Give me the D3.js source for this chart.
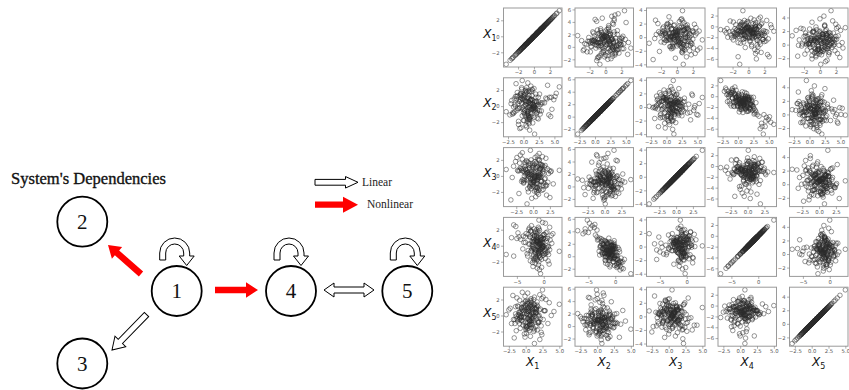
<!DOCTYPE html>
<html>
<head>
<meta charset="utf-8">
<script src="https://cdn.jsdelivr.net/npm/d3@7"></script>
<style>
  body { margin: 0; background: #fff; }
  svg { display: block; }
</style>
</head>
<body>
<svg id="fig" width="849" height="390"></svg>
<script>
// ---- Sampled observations of the five system variables ----
const x1 = [
  0.3,-1.2,0.8,1.5,-0.4,0.1,-2.1,0.9,-0.7,1.1,0.0,-1.6,2.3,-0.2,0.6,-0.9,1.8,-0.5,0.4,-1.3,
  1.0,-0.1,-2.6,0.7,1.3,-0.8,0.2,2.0,-1.0,0.5,-0.3,1.6,-1.8,0.9,-0.6,3.2,-0.2,1.2,-1.4,0.1,
  -0.9,0.6,1.9,-0.4,-1.1,0.3,2.6,-1.7,0.8,-0.5,1.4,0.0,-2.3,0.7,1.0,-0.7,0.4,-1.5,2.1,-0.1,
  0.5,-3.5,1.1,-0.3,0.8,-1.9,0.2,1.7,-0.6,1.3,-1.2,0.1,0.9,-0.8,2.4,-0.4,0.6,-1.0,1.5,-2.0,
  -0.2,1.2,-0.9,0.4,2.8,-1.4,0.7,-0.5,1.0,-2.8,0.3,1.8,-0.7,0.0,-1.6,1.4,0.5,-0.3,2.2,-1.1,
  0.8,-0.6,1.6,-1.3,0.2,0.9,-2.2,1.1,-0.1,0.6,-0.8,2.0,-1.5,0.4,1.3,-0.4,-1.0,0.7,-0.2,1.9,
  -1.7,0.1,1.2,-0.6,0.5,-3.0,0.9,-0.3,1.7,-1.1,0.3,2.5,-0.9,0.6,-0.1,1.0,-1.8,0.2,1.4,-0.5,
  0.4,-1.4,2.9,-0.7,0.0,1.1,-2.4,0.8,-0.2,1.5,-1.2,0.3,0.7,-0.9,1.8,-0.4,0.5,-1.6,1.2,-0.1,
  2.1,-0.8,0.6,-1.9,1.0,-0.3,0.2,1.6,-1.0,-0.6,0.9,-2.7,1.3,0.1,-0.5,2.3,-1.3,0.4,-0.2,1.1
];
const x2 = [
  1.2,0.4,-0.5,2.0,4.6,0.9,1.5,-1.1,0.7,2.4,0.1,1.0,-0.3,1.8,0.6,-1.6,1.3,0.2,2.9,0.8,
  -0.4,1.6,0.5,1.1,-0.9,2.2,0.3,1.4,-1.8,0.9,1.9,5.3,0.0,1.2,2.6,-0.2,0.7,-1.3,1.7,0.4,
  2.1,-0.6,0.8,1.3,-2.2,0.5,3.9,1.0,-0.1,1.7,0.2,2.5,-0.8,1.1,0.6,-1.4,3.1,0.9,-0.3,1.5,
  0.3,1.8,4.2,-0.7,1.2,0.6,2.3,-1.0,0.8,1.4,-0.2,2.0,0.1,-1.7,5.8,1.1,0.4,2.7,-0.5,0.9,
  1.6,-0.1,0.7,2.1,-1.2,1.0,0.3,1.9,3.6,-0.6,1.4,0.5,-2.8,1.2,2.4,0.0,0.8,-0.9,1.7,0.2,
  4.9,0.6,-0.4,1.3,2.8,-1.5,0.9,0.1,1.8,-0.7,1.1,0.4,2.2,3.4,-0.3,1.5,0.7,-1.9,1.0,0.3,
  0.8,1.7,-1.1,0.2,2.5,1.0,-0.2,1.4,0.5,4.1,-0.9,1.2,0.6,2.0,-1.6,0.9,0.1,1.6,-0.5,2.3,
  -0.3,1.1,0.7,1.9,-1.3,4.5,0.4,1.3,-0.6,2.6,0.8,-2.0,1.5,0.2,1.0,-0.1,1.8,0.6,5.1,0.9,
  1.4,0.0,2.1,-0.8,0.7,1.6,-1.4,0.3,1.2,2.9,3.8,-0.4,0.9,1.7,-1.0,0.5,4.4,1.1,-0.2,2.0
];
const x3 = [
  -0.5,0.9,1.4,-1.2,0.2,-0.8,0.6,2.1,-1.7,0.0,1.0,-0.3,-2.4,0.7,-0.9,1.6,0.3,-1.4,0.8,-0.1,
  1.2,-0.6,0.4,-2.0,1.8,0.1,-1.1,0.9,-0.2,2.6,-0.7,0.5,1.3,-1.5,0.0,-0.4,1.1,-2.9,0.6,0.2,
  -0.3,1.5,-1.0,0.7,-0.1,2.3,-1.9,0.4,1.0,-0.8,0.2,-1.3,0.8,3.9,-0.5,1.2,-0.2,0.6,-1.6,0.9,
  0.1,-0.9,1.7,-0.4,-4.0,0.5,1.1,-1.2,0.3,-0.6,2.0,0.8,-1.8,0.0,1.4,-0.3,-2.2,0.7,1.0,-0.7,
  0.6,1.3,-1.4,0.2,0.9,-0.5,2.4,-1.0,0.4,-0.2,1.6,-2.6,0.1,0.7,-0.8,1.1,-1.3,0.3,1.9,-0.4,
  -1.1,0.5,0.0,1.8,-0.6,1.0,-2.1,0.3,0.8,-1.5,2.2,-0.3,0.6,-0.9,1.4,-0.1,3.0,-1.7,0.2,0.9,
  1.5,-0.2,0.7,-1.3,0.4,-3.3,1.1,0.0,-0.7,1.9,-1.0,0.6,-0.4,2.7,0.2,-1.9,0.8,-0.6,1.3,0.1,
  -0.8,0.3,-1.6,1.2,0.5,-0.1,2.0,-1.1,0.9,-0.4,1.5,0.0,-2.3,0.6,-0.9,1.7,-0.2,1.0,-1.2,0.4,
  0.7,-1.4,1.0,0.2,-0.6,1.8,-0.3,-2.0,0.5,1.3,-0.8,2.5,-0.1,0.9,-1.6,0.3,-0.5,1.4,-3.1,0.6
];
const x4 = [
  -0.8,-1.9,0.2,-1.3,-3.9,-0.4,-2.1,0.7,-1.0,-2.6,-0.2,-1.5,1.1,-0.9,-1.7,0.4,-2.4,-0.6,-1.2,-3.0,
  -1.1,0.0,-2.0,-0.5,1.4,-1.6,-0.7,-2.8,0.3,-1.3,-0.3,-4.8,-1.8,-0.1,-2.3,-0.9,0.8,-1.4,-0.6,-2.0,
  -1.5,0.5,-0.8,-2.2,0.9,-1.0,-5.6,-0.4,-1.9,-0.7,-2.9,-0.2,1.0,-1.2,-0.5,0.2,-3.4,-1.6,-0.9,-0.1,
  -1.3,-0.6,-3.4,-1.8,-0.3,-2.5,-1.1,0.6,-0.8,-1.7,-0.1,-2.2,0.4,-1.0,-5.2,-0.5,-1.4,-3.1,1.7,-0.9,
  -0.4,-1.7,-1.0,-0.2,0.3,-2.0,-0.7,-1.5,-6.0,-1.2,-0.6,-2.4,2.9,-0.9,-1.8,0.1,-1.1,-0.3,-2.7,-0.8,
  -4.3,-1.4,0.4,-0.9,-2.6,-0.1,-1.6,-0.5,-2.1,-1.0,0.7,-1.3,-0.7,-3.7,-0.2,-1.9,-1.1,1.2,-0.6,-2.4,
  -1.2,-0.3,-1.8,0.2,-2.0,-0.8,-1.4,0.5,-1.1,-7.0,-0.4,-2.3,-0.9,-1.6,0.9,-0.6,-1.3,-2.8,0.0,-1.7,
  -0.7,-1.5,-0.2,-2.4,0.6,-4.6,-1.0,-0.5,-1.9,-3.3,-0.8,1.5,-1.2,-0.1,-1.6,-0.9,-2.2,0.3,-3.8,-1.1,
  -1.8,-0.6,-1.2,0.8,-2.1,-0.3,-0.9,-1.5,0.1,-2.9,-5.0,-0.4,-1.3,-0.7,1.1,-1.0,-5.6,-1.9,-0.2,-2.5
];
const x5 = [
  0.9,-0.4,1.6,0.2,-1.3,1.1,2.3,-0.2,0.6,1.8,-1.0,0.4,1.3,-0.7,2.8,0.0,0.8,-1.8,1.5,0.3,
  -0.6,1.4,0.7,2.0,-0.1,0.5,-1.5,1.2,3.3,0.1,-0.8,0.9,1.7,-2.3,0.6,2.5,-0.3,1.0,0.2,-1.1,
  1.9,0.3,-0.9,1.1,0.6,-0.5,2.1,0.0,1.4,-1.6,0.8,3.8,-0.2,0.5,1.6,-1.2,0.9,0.1,2.4,-0.7,
  0.4,1.3,-0.3,0.8,2.2,-1.4,0.2,1.7,-0.6,0.7,1.0,-2.9,0.5,1.9,-0.1,0.9,2.7,-0.9,0.3,1.2,
  -0.2,0.6,1.8,-1.0,0.3,1.5,-0.5,2.6,0.8,-1.7,1.1,0.0,0.7,2.0,-0.8,1.3,4.2,0.4,-1.3,0.9,
  1.0,-0.7,0.5,2.3,-0.2,1.4,0.1,-1.5,1.9,0.6,-0.4,3.0,0.8,-0.9,1.2,0.3,-2.1,1.6,0.0,0.7,
  0.2,1.7,-1.2,0.9,0.4,2.1,-0.6,1.1,-0.1,0.7,1.5,-1.9,0.3,2.9,0.6,-0.3,1.3,-0.8,5.0,0.5,
  1.4,0.1,-0.5,1.8,0.7,-1.1,2.4,0.2,1.0,-0.4,0.6,1.6,-2.5,0.9,0.3,2.2,-0.7,1.2,0.0,-1.4,
  0.8,2.0,-0.3,0.5,1.3,-0.9,0.2,3.5,-1.6,1.1,0.4,-0.1,1.7,0.6,-1.0,2.6,0.0,1.2,-0.6,0.9
];
const series = [x1, x2, x3, x4, x5];
const varNames = ["1", "2", "3", "4", "5"];

// tick values used when a variable sits on the horizontal / vertical axis
const xTickVals = [[-2, 0, 2], [-2.5, 0, 2.5, 5], [-2.5, 0, 2.5], [-5, 0], [-2.5, 0, 2.5, 5]];
const xTickFmt  = ["d", ".1f", ".1f", "d", ".1f"];
const yTickVals = [[-2, 0, 2], [-2, 0, 2, 4, 6], [-4, -2, 0, 2, 4], [-6, -4, -2, 0, 2], [-2, 0, 2, 4]];

// ---- Dependency diagram content ----
const nodeLabels = ["1", "2", "3", "4", "5"];
const nonlinearEdges = [["1", "2"], ["1", "4"]];
const linearEdges = [["1", "3"], ["4", "5"]];
const bidirectional = [["4", "5"]];
const selfLoops = ["1", "4", "5"];
const legendItems = ["Linear", "Nonlinear"];

const svg = d3.select("#fig");

// ================= Diagram =================
const nodePos = {
  "1": [176.7, 291], "2": [82.3, 221.7], "3": [82.3, 363.5],
  "4": [291, 291], "5": [407.3, 291]
};
// arrow endpoints (tail, tip) for each edge in the drawing
const edgeGeom = {
  "1-2": [[141, 274], [108, 245]],
  "1-4": [[215, 290], [258, 290]],
  "1-3": [[146.5, 314.5], [112, 350]],
  "4-5": [[324, 290], [374, 290]]
};
const serif = "'Liberation Serif', 'Times New Roman', serif";

function blockArrow(g, p0, p1, opt) {
  const dx = p1[0] - p0[0], dy = p1[1] - p0[1];
  const len = Math.hypot(dx, dy);
  const ang = Math.atan2(dy, dx) * 180 / Math.PI;
  const s = opt.shaft / 2, h = opt.head / 2, L = opt.headLen;
  let pts;
  if (opt.double) {
    pts = [[0, 0], [L, -h], [L, -s], [len - L, -s], [len - L, -h], [len, 0],
           [len - L, h], [len - L, s], [L, s], [L, h]];
  } else {
    pts = [[0, -s], [len - L, -s], [len - L, -h], [len, 0], [len - L, h], [len - L, s], [0, s]];
  }
  g.append("polygon")
    .attr("transform", `translate(${p0[0]},${p0[1]}) rotate(${ang})`)
    .attr("points", pts.map(p => p.join(",")).join(" "))
    .attr("fill", opt.fill)
    .attr("stroke", opt.stroke || "none")
    .attr("stroke-width", opt.strokeWidth || 0)
    .attr("stroke-linejoin", "miter");
}

const diag = svg.append("g");

diag.append("text")
  .attr("x", 11).attr("y", 184)
  .attr("font-family", serif).attr("font-size", 17)
  .attr("textLength", 155).attr("lengthAdjust", "spacingAndGlyphs")
  .attr("fill", "#111").attr("stroke", "#111").attr("stroke-width", 0.35)
  .text("System's Dependencies");

// nodes
nodeLabels.forEach(k => {
  const [cx, cy] = nodePos[k];
  diag.append("circle").attr("cx", cx).attr("cy", cy).attr("r", 25)
    .attr("fill", "#fff").attr("stroke", "#000").attr("stroke-width", 1.8);
  diag.append("text").attr("x", cx).attr("y", cy + 7)
    .attr("text-anchor", "middle").attr("font-family", serif).attr("font-size", 21)
    .attr("fill", "#111").text(k);
});

// nonlinear (red) arrows
nonlinearEdges.forEach(([a, b]) => {
  const [p0, p1] = edgeGeom[a + "-" + b];
  blockArrow(diag, p0, p1, { shaft: 6.5, head: 15.5, headLen: 12, fill: "#f00" });
});
// linear (hollow) arrows
linearEdges.forEach(([a, b]) => {
  const [p0, p1] = edgeGeom[a + "-" + b];
  const dbl = bidirectional.some(e => e[0] === a && e[1] === b);
  blockArrow(diag, p0, p1, {
    shaft: 6, head: dbl ? 14 : 15, headLen: dbl ? 10 : 12, double: dbl,
    fill: "#fff", stroke: "#000", strokeWidth: 1
  });
});

// self-loop hollow curved arrows
selfLoops.forEach(k => {
  const cx = nodePos[k][0] - 2, cy = nodePos[k][1] - 38;
  const Ro = 15, Ri = 9;
  const p = d3.path();
  p.moveTo(cx - Ro, cy + 7);
  p.lineTo(cx - Ro, cy);
  p.arc(cx, cy, Ro, Math.PI, 2 * Math.PI, false);
  p.lineTo(cx + Ro, cy + 3);
  p.lineTo(cx + Ro + 4.5, cy + 3);
  p.lineTo(cx + 12, cy + 12.5);
  p.lineTo(cx + Ri - 4.5, cy + 3);
  p.lineTo(cx + Ri, cy + 3);
  p.lineTo(cx + Ri, cy);
  p.arc(cx, cy, Ri, 2 * Math.PI, Math.PI, true);
  p.lineTo(cx - Ri, cy + 7);
  p.closePath();
  diag.append("path").attr("d", p.toString())
    .attr("fill", "#fff").attr("stroke", "#000").attr("stroke-width", 1);
});

// legend
const legendY = [182.3, 204.7];
legendItems.forEach((name, i) => {
  const y = legendY[i];
  if (i === 0) {
    blockArrow(diag, [315, y], [358, y], { shaft: 5.8, head: 11.5, headLen: 12.5,
      fill: "#fff", stroke: "#000", strokeWidth: 1 });
  } else {
    blockArrow(diag, [315, y], [358, y], { shaft: 6.2, head: 16, headLen: 15, fill: "#f00" });
  }
  diag.append("text").attr("x", i === 0 ? 362 : 367).attr("y", y + 3.5)
    .attr("font-family", serif).attr("font-size", 11.5).attr("fill", "#222")
    .text(name);
});

// ================= Pair grid =================
const pw = 58.5, ph = 59;
const colLeft = j => 503.5 + j * 71.5;
const rowTop = i => 8 + i * 69.8;
const sans = "'DejaVu Sans', sans-serif";

function paddedDomain(arr) {
  const [lo, hi] = d3.extent(arr);
  const pad = (hi - lo) * 0.05;
  return [lo - pad, hi + pad];
}
const domains = series.map(paddedDomain);

const grid = svg.append("g");
for (let i = 0; i < 5; i++) {
  for (let j = 0; j < 5; j++) {
    const g = grid.append("g").attr("transform", `translate(${colLeft(j)},${rowTop(i)})`);
    const xs = d3.scaleLinear().domain(domains[i]).range([0, pw]);
    const ys = d3.scaleLinear().domain(domains[j]).range([ph, 0]);
    const pts = d3.range(series[i].length).map(k => [series[i][k], series[j][k]]);

    g.append("g").selectAll("circle").data(pts).join("circle")
      .attr("cx", d => xs(d[0])).attr("cy", d => ys(d[1])).attr("r", 2.3)
      .attr("fill", "none").attr("stroke", "#2a2a2a")
      .attr("stroke-opacity", 0.7).attr("stroke-width", 0.7);

    g.append("rect").attr("width", pw).attr("height", ph)
      .attr("fill", "none").attr("stroke", "#9a9a9a").attr("stroke-width", 1);

    const xa = g.append("g").attr("transform", `translate(0,${ph})`)
      .call(d3.axisBottom(xs).tickValues(xTickVals[i]).tickSize(2.5).tickPadding(1)
        .tickFormat(d3.format(xTickFmt[i])));
    const ya = g.append("g")
      .call(d3.axisLeft(ys).tickValues(yTickVals[j]).tickSize(2.5).tickPadding(1.5)
        .tickFormat(d3.format("d")));
    [xa, ya].forEach(a => {
      a.select(".domain").remove();
      a.selectAll("line").attr("stroke", "#777").attr("stroke-width", 0.6);
      a.selectAll("text").attr("font-family", sans).attr("font-size", 5.3).attr("fill", "#555");
    });
  }
}

// row labels (left) and column labels (bottom)
varNames.forEach((v, i) => {
  const t = grid.append("text")
    .attr("x", 496.5).attr("y", rowTop(i) + 29.5)
    .attr("text-anchor", "end").attr("font-family", sans).attr("fill", "#111");
  t.append("tspan").attr("font-style", "italic").attr("font-size", 12).text("X");
  t.append("tspan").attr("font-size", 8).attr("dy", 3).text(v);

  const c = grid.append("text")
    .attr("x", colLeft(i) + pw / 2).attr("y", 366)
    .attr("text-anchor", "middle").attr("font-family", sans).attr("fill", "#111");
  c.append("tspan").attr("font-style", "italic").attr("font-size", 12).text("X");
  c.append("tspan").attr("font-size", 8).attr("dy", 2.5).text(v);
});
</script>
</body>
</html>
